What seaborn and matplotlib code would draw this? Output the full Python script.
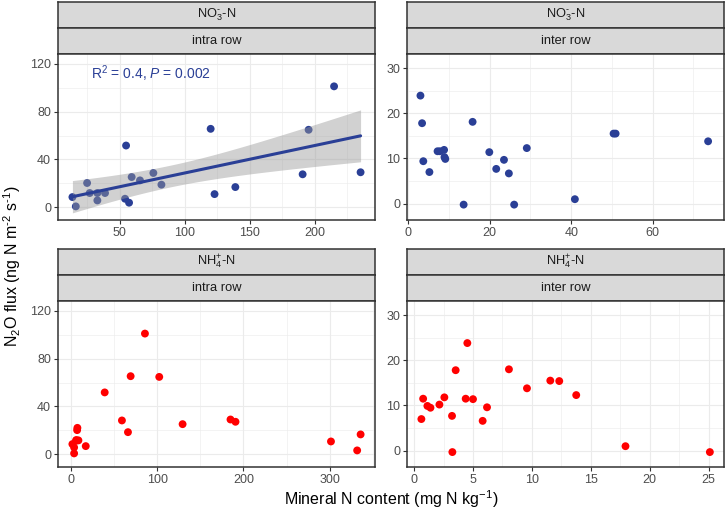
import matplotlib
matplotlib.use("Agg")
import matplotlib.pyplot as plt
from matplotlib.ticker import MultipleLocator
import numpy as np
import seaborn as sns

# N2O flux vs. nitrate content, intra row
no3_intra_x = [13.6, 16.2, 24.9, 26.9, 32.8, 32.8, 38.7, 54.1, 54.9, 57.2, 59.2,
               65.6, 75.9, 82.1, 120.0, 123.0, 139.0, 190.8, 195.4, 215.0, 235.4]
no3_intra_y = [8.4, 0.6, 20.2, 11.8, 5.6, 11.8, 11.8, 7.0, 51.6, 3.7, 25.2,
               22.4, 28.6, 18.8, 65.6, 10.9, 16.8, 27.5, 64.8, 101.2, 29.2]

# nitrate, inter row
no3_inter_x = [3.0, 3.4, 3.7, 5.2, 7.2, 7.8, 8.8, 8.9, 9.1, 13.6, 15.8,
               19.9, 21.6, 23.5, 24.7, 26.0, 29.1, 40.9, 50.4, 50.9, 73.6]
no3_inter_y = [23.9, 17.8, 9.4, 7.0, 11.6, 11.6, 11.9, 10.3, 9.9, -0.2, 18.1,
               11.4, 7.7, 9.7, 6.7, -0.2, 12.3, 1.0, 15.5, 15.5, 13.8]

# ammonium, intra row
nh4_intra_x = [1.5, 3.5, 3.5, 5.8, 6.0, 8.5, 7.0, 7.3, 17.0, 39.0, 59.0,
               66.0, 85.7, 69.1, 102.3, 129.4, 185.0, 190.8, 301.6, 332.0, 336.0]
nh4_intra_y = [8.4, 5.6, 0.6, 11.2, 11.8, 11.5, 20.1, 22.0, 6.7, 51.7, 28.2,
               18.4, 101.0, 65.3, 64.7, 25.1, 29.0, 27.1, 10.6, 3.1, 16.5]

# ammonium, inter row
nh4_inter_x = [0.62, 0.77, 1.13, 1.39, 2.15, 2.57, 3.22, 3.25, 3.53, 4.38, 4.52,
               5.0, 5.82, 6.19, 8.05, 9.58, 11.56, 12.32, 13.76, 17.94, 25.1]
nh4_inter_y = [7.0, 11.5, 9.9, 9.5, 10.2, 11.8, 7.7, -0.3, 17.8, 11.5, 23.8,
               11.4, 6.6, 9.6, 18.0, 13.8, 15.5, 15.4, 12.3, 1.0, -0.3]

BLUE = '#2a3f96'
RED = '#ff0000'
T975 = 2.093  # t quantile, 19 degrees of freedom

sns.set_theme(style="white")
plt.rcParams['font.family'] = ['Liberation Sans', 'DejaVu Sans']
plt.rcParams['mathtext.fontset'] = 'custom'
plt.rcParams['mathtext.rm'] = 'Liberation Sans'
plt.rcParams['mathtext.it'] = 'Liberation Sans:italic'
plt.rcParams['mathtext.bf'] = 'Liberation Sans:bold'

W, H = 726, 509
fig = plt.figure(figsize=(W / 100, H / 100), dpi=100)


def px_axes(left, top, right, bottom):
    return fig.add_axes([left / W, 1 - bottom / H, (right - left) / W, (bottom - top) / H])


def add_strip(left, top, right, bottom, label):
    s = px_axes(left, top, right, bottom)
    s.set_facecolor('#d9d9d9')
    s.set_xticks([])
    s.set_yticks([])
    for sp in s.spines.values():
        sp.set_color('#333333')
        sp.set_linewidth(1.1)
    s.text(0.5, 0.5, label, ha='center', va='center', fontsize=9.3, color='#1a1a1a',
           transform=s.transAxes)


def lm_band(ax, x, y):
    # ggplot-style confidence ribbon of a linear fit
    x = np.asarray(x)
    y = np.asarray(y)
    n = len(x)
    b, a = np.polyfit(x, y, 1)
    resid = y - (a + b * x)
    s = np.sqrt(np.sum(resid ** 2) / (n - 2))
    grid = np.linspace(x.min(), x.max(), 100)
    se = s * np.sqrt(1 / n + (grid - x.mean()) ** 2 / np.sum((x - x.mean()) ** 2))
    fit = a + b * grid
    ax.fill_between(grid, fit - T975 * se, fit + T975 * se, facecolor='#999999',
                    alpha=0.45, linewidth=0, zorder=3)


def panel(left, right, top, x, y, color, xlim, ylim, xmaj, ymaj, strip1, strip2, fit=False):
    # two strips of 26 px above a 166 px plot area
    add_strip(left, top, right, top + 26, strip1)
    add_strip(left, top + 26, right, top + 52, strip2)
    ax = px_axes(left, top + 52, right, top + 218)
    sns.scatterplot(x=x, y=y, color=color, s=32, edgecolor='none', linewidth=0,
                    ax=ax, zorder=2)
    if fit:
        sns.regplot(x=np.array(x), y=np.array(y), scatter=False, color=color, ci=None,
                    ax=ax, line_kws={'linewidth': 2.2, 'zorder': 4})
        lm_band(ax, x, y)
    ax.set_xlim(*xlim)
    ax.set_ylim(*ylim)
    ax.xaxis.set_major_locator(MultipleLocator(xmaj))
    ax.xaxis.set_minor_locator(MultipleLocator(xmaj / 2))
    ax.yaxis.set_major_locator(MultipleLocator(ymaj))
    ax.yaxis.set_minor_locator(MultipleLocator(ymaj / 2))
    ax.grid(which='major', color='#ebebeb', linewidth=0.8, zorder=0)
    ax.grid(which='minor', color='#ebebeb', linewidth=0.4, zorder=0)
    ax.set_axisbelow(True)
    ax.tick_params(which='major', direction='out', length=3, width=0.8, color='#333333',
                   labelsize=9, labelcolor='#4d4d4d', bottom=True, left=True, pad=2)
    ax.tick_params(which='minor', length=0)
    for sp in ax.spines.values():
        sp.set_color('#333333')
        sp.set_linewidth(1.1)
    ax.set_xlabel('')
    ax.set_ylabel('')
    return ax


no3 = 'NO$_3^{\u2010}$-N'
nh4 = r'NH$_4^{+}$-N'

ax1 = panel(58, 375, 2, no3_intra_x, no3_intra_y, BLUE, (2.5, 246.5), (-10.8, 128.3),
            50, 40, no3, 'intra row', fit=True)
ax1.text(28.2, 111.6, r'R$^2$ = 0.4, $P$ = 0.002', color=BLUE, fontsize=10,
         ha='left', va='center')
ax2 = panel(407, 724, 2, no3_inter_x, no3_inter_y, BLUE, (-0.3, 77.5), (-3.6, 33.1),
            20, 10, no3, 'inter row')
ax3 = panel(58, 375, 249, nh4_intra_x, nh4_intra_y, RED, (-15.2, 352.7), (-10.8, 128.3),
            100, 40, nh4, 'intra row')
ax4 = panel(407, 724, 249, nh4_inter_x, nh4_inter_y, RED, (-0.6, 26.3), (-3.6, 33.1),
            5, 10, nh4, 'inter row')

fig.text(391 / W, 1 - 499 / H, r'Mineral N content (mg N kg$^{-1}$)', ha='center',
         va='center', fontsize=11.5, color='black')
fig.text(12 / W, 1 - 266 / H, 'N$_2$O flux (ng N m$^{\u20102}$ s$^{\u20101}$)', ha='center',
         va='center', rotation=90, fontsize=11.5, color='black')

fig.savefig('out.png', dpi=100)
